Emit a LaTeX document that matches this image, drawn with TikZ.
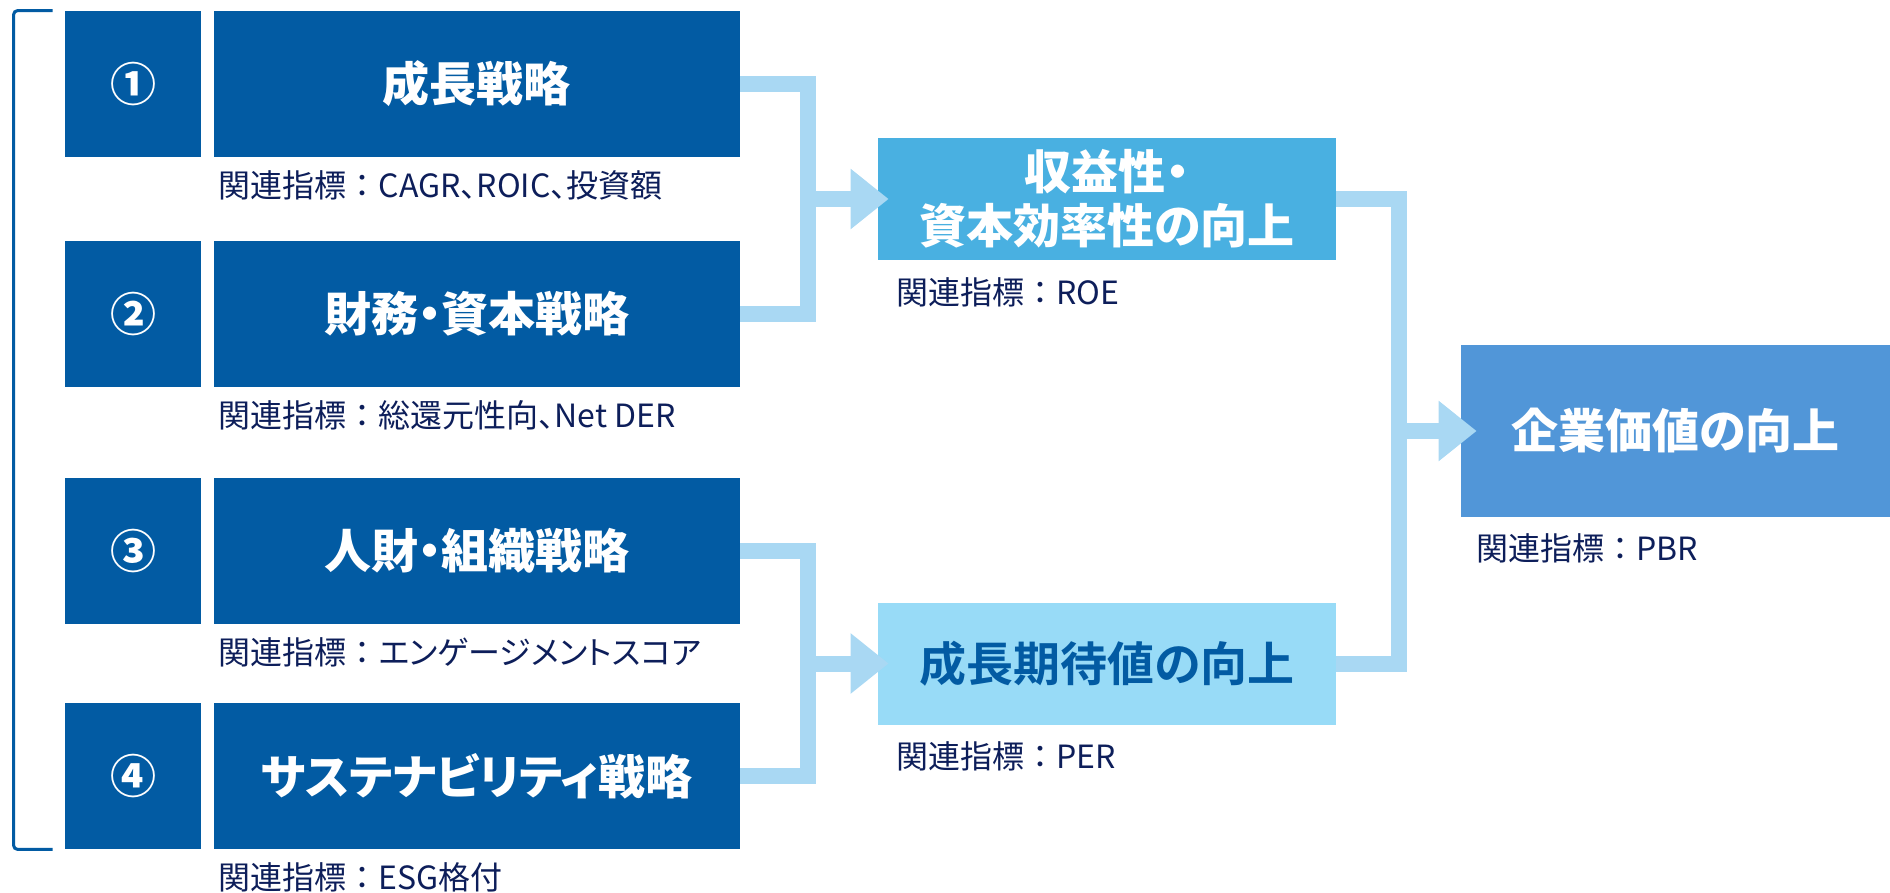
\documentclass[tikz,border=0pt]{standalone}
\usepackage{fontspec}
\setmainfont{Noto Sans CJK JP}[RawFeature=+palt]
\newfontfamily\widefont{Noto Sans CJK JP}
\newfontfamily\heavyfont{Noto Sans CJK JP Black}[RawFeature=+palt]
\usetikzlibrary{positioning, arrows.meta}
\definecolor{stratblue}{HTML}{025BA3}
\definecolor{profitblue}{HTML}{49B0E1}
\definecolor{growthblue}{HTML}{98DBF7}
\definecolor{valueblue}{HTML}{5196D8}
\definecolor{linkblue}{HTML}{A9D8F3}
\definecolor{metricnavy}{HTML}{0D1E5A}
\newcommand{\kanren}{{\widefont 関連指標：}}
\tikzset{
    numbox/.style={
        fill=stratblue,
        minimum width=68pt,
        minimum height=73pt,
        inner sep=0pt,
        text=white,
        font=\bfseries\fontsize{23pt}{23pt}\selectfont,
    },
    stratbox/.style={
        fill=stratblue,
        minimum width=263pt,
        minimum height=73pt,
        inner sep=0pt,
        text=white,
        font=\bfseries\fontsize{23.5pt}{27pt}\selectfont,
    },
    goalbox/.style={
        minimum width=229pt,
        minimum height=61pt,
        inner sep=0pt,
        align=center,
        font=\bfseries\fontsize{23.5pt}{27pt}\selectfont,
    },
    metric/.style={
        anchor=west,
        inner sep=0pt,
        text=metricnavy,
        font=\fontsize{16pt}{18pt}\selectfont,
    },
    link/.style={draw=linkblue, line width=8pt},
    bracket/.style={draw=stratblue, line width=1.5pt, rounded corners=2pt},
}

\begin{document}
\begin{tikzpicture}[x=0.5pt, y=-0.5pt]
                   \useasboundingbox (0,0) rectangle (1890,893);
                   % four strategies
                   \node[numbox] (n1) at (133,84) {①};
                   \node[stratbox, right=6pt of n1] (s1) {成長戦略};
                   \node[numbox] (n2) at (133,314) {②};
                   \node[stratbox, right=6pt of n2] (s2) {財務・資本戦略};
                   \node[numbox] (n3) at (133,551) {③};
                   \node[stratbox, right=6pt of n3] (s3) {人財・組織戦略};
                   \node[numbox] (n4) at (133,776) {④};
                   \node[stratbox, right=6pt of n4] (s4) {サステナビリティ戦略};
                   \node[metric] (m1) at ([xshift=2.5pt, yshift=-14pt]s1.south west) {\kanren CAGR、ROIC、投資額};
                   \node[metric] (m2) at ([xshift=2.5pt, yshift=-14pt]s2.south west) {\kanren 総還元性向、Net DER};
                   \node[metric] (m3) at ([xshift=2.5pt, yshift=-14pt]s3.south west) {\kanren エンゲージメントスコア};
                   \node[metric] (m4) at ([xshift=2.5pt, yshift=-14pt]s4.south west) {\kanren ESG格付};
                   \draw[bracket] ([xshift=-6pt]n1.north west) -- ++(-19.5pt,0) |- ([xshift=-6pt]n4.south west);
                   % goals
                   \node[goalbox, fill=profitblue, text=white] (g1) at (1107,199) {収益性・\\資本効率性の向上};
                   \node[goalbox, fill=growthblue, text=stratblue] (g2) at (1107,663.5) {\heavyfont 成長期待値の向上};
                   \node[goalbox, fill=valueblue, text=white, minimum width=214.5pt, minimum height=86pt] (v) at (1675.5,431) {企業価値の向上};
                   \node[metric] (m5) at ([xshift=9pt, yshift=-16pt]g1.south west) {\kanren ROE};
                   \node[metric] (m6) at ([xshift=9pt, yshift=-15.5pt]g2.south west) {\kanren PER};
                   \node[metric] (m7) at ([xshift=7.5pt, yshift=-15.25pt]v.south west) {\kanren PBR};
                   % links
                   \coordinate (j1) at (808,199);
                   \coordinate (j2) at (808,663.5);
                   \coordinate (j3) at (1399,431);
                   \draw[link] (s1.east) -| (j1) |- (s2.east);
                   \draw[link] (s3.east) -| (j2) |- (s4.east);
                   \draw[link] (g1.east) -| (j3) |- (g2.east);
                   \draw[link, -{Triangle[length=19pt, width=29pt]}] (j1) to ([xshift=5.5pt]g1.west);
                   \draw[link, -{Triangle[length=19pt, width=29pt]}] (j2) to ([xshift=5.5pt]g2.west);
                   \draw[link, -{Triangle[length=19pt, width=29pt]}] (j3) to ([xshift=8pt]v.west);
\end{tikzpicture}
\end{document}
